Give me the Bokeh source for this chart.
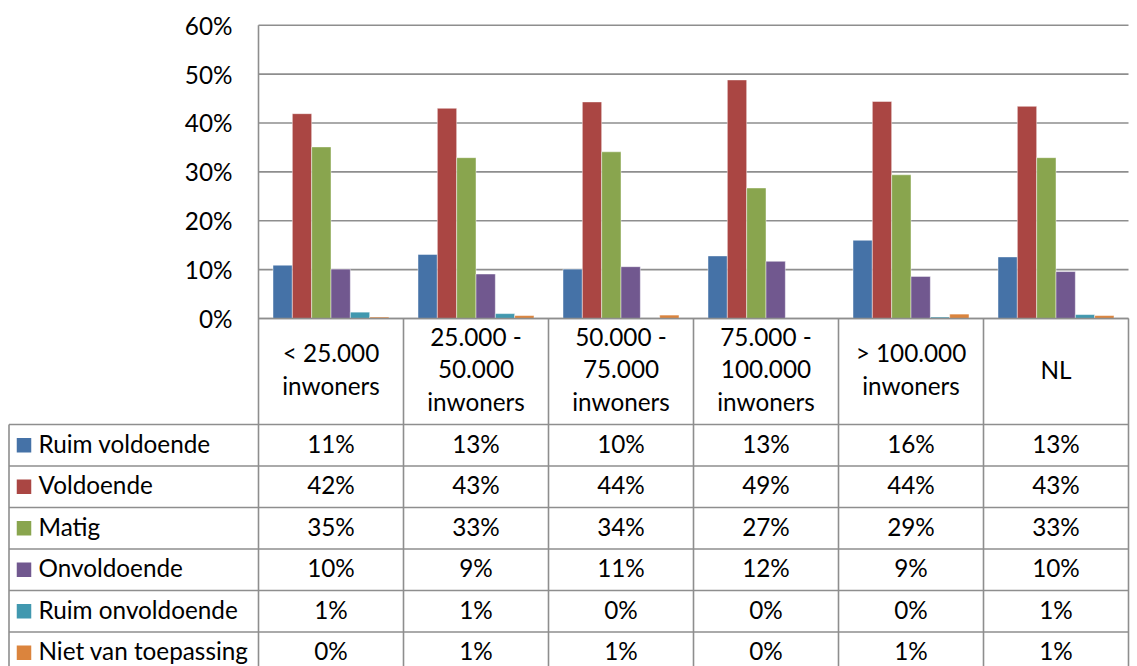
from bokeh.plotting import figure
from bokeh.models import Range1d, FixedTicker, NumeralTickFormatter
from bokeh.embed import file_html
from bokeh.resources import INLINE
from bokeh.core.properties import value

# ---------------- data ----------------
categories = ["< 25.000\ninwoners", "25.000 -\n50.000\ninwoners", "50.000 -\n75.000\ninwoners",
              "75.000 -\n100.000\ninwoners", "> 100.000\ninwoners", "NL"]
series_names = ["Ruim voldoende", "Voldoende", "Matig", "Onvoldoende",
                "Ruim onvoldoende", "Niet van toepassing"]
ruim_voldoende = [0.109, 0.131, 0.101, 0.128, 0.160, 0.126]
voldoende = [0.419, 0.430, 0.443, 0.488, 0.444, 0.434]
matig = [0.351, 0.329, 0.341, 0.267, 0.294, 0.329]
onvoldoende = [0.101, 0.091, 0.106, 0.117, 0.086, 0.096]
ruim_onvoldoende = [0.013, 0.010, 0.000, 0.000, 0.003, 0.008]
niet_van_toepassing = [0.003, 0.006, 0.007, 0.000, 0.009, 0.006]
y_ticks = [0.0, 0.1, 0.2, 0.3, 0.4, 0.5, 0.6]

series = [ruim_voldoende, voldoende, matig, onvoldoende, ruim_onvoldoende, niet_van_toepassing]
colors = ["#4572A7", "#AA4643", "#89A54E", "#71588F", "#4198AF", "#DB843D"]

# ---------------- layout constants (pixels) ----------------
FONT = "Lato"
FS = "24.3px"
GRID = "#8E8E8E"
W, H = 1137, 666
X0, PX = 258.0, 145.0            # left edge of first category, px per category
Y0 = 318.0                       # pixel row of 0 %
K = (318.0 - 24.7) / 0.6         # px per unit of value
ROW_TOP, ROW = 424.0, 41.5       # first data row top, row height
n = len(categories)
nrows = len(series_names)
BW = 116.0 / PX / 6              # bar width in category units


def X(px):
    return (px - X0) / PX


def Y(py):
    return (Y0 - py) / K


p = figure(width=W, height=H, output_backend="svg", toolbar_location=None,
           x_range=Range1d(X(0), X(W)), y_range=Range1d(Y(H), Y(0)),
           x_axis_location=None, y_axis_location="left", min_border=0)
p.outline_line_color = None
p.background_fill_color = "white"
p.border_fill_color = "white"
p.xgrid.visible = False
p.ygrid.visible = False

# value axis, placed at the chart's left edge
ax = p.yaxis[0]
ax.fixed_location = 0
ax.ticker = FixedTicker(ticks=y_ticks)
ax.formatter = NumeralTickFormatter(format="0%")
ax.axis_line_color = None
ax.major_tick_line_color = None
ax.minor_tick_line_color = None
ax.major_tick_out = 0
ax.major_tick_in = 0
ax.major_label_standoff = 26
ax.major_label_text_font = FONT
ax.major_label_text_font_size = FS
ax.major_label_text_color = "black"

# gridlines
p.segment(x0=[0] * len(y_ticks), x1=[n] * len(y_ticks), y0=y_ticks, y1=y_ticks,
          line_color=GRID, line_width=1.6)

# bars
for j, vals in enumerate(series):
    xs = [i + 0.5 + (j - 2.5) * BW for i in range(n)]
    p.vbar(x=xs, top=vals, bottom=0, width=BW, fill_color=colors[j],
           line_color="white", line_alpha=0.45, line_width=1)

# baseline over bars
p.segment(x0=[0], y0=[0], x1=[n], y1=[0], line_color=GRID, line_width=1.6)

# vertical lines: axis line + category separators through header and table
ybot = Y(H + 10)
p.segment(x0=list(range(n + 1)), x1=list(range(n + 1)),
          y0=[max(y_ticks)] + [0.0] * n, y1=[ybot] * (n + 1),
          line_color=GRID, line_width=1.6)
# table left border and row lines
xl = X(8.5)
p.segment(x0=[xl], x1=[xl], y0=[Y(ROW_TOP)], y1=[ybot], line_color=GRID, line_width=1.6)
row_lines = [Y(ROW_TOP + r * ROW) for r in range(nrows + 1)]
p.segment(x0=[xl] * len(row_lines), x1=[n] * len(row_lines), y0=row_lines, y1=row_lines,
          line_color=GRID, line_width=1.6)

# category header (multi-line)
hx, hy, ht = [], [], []
LINE = 32.3
for i, cat in enumerate(categories):
    lines = cat.split("\n")
    for li, t in enumerate(lines):
        hx.append(i + 0.5)
        hy.append(Y(368.6 + (li - (len(lines) - 1) / 2) * LINE))
        ht.append(t)
p.text(x=hx, y=hy, text=ht, text_align="center", text_baseline="middle",
       text_font=value(FONT), text_font_size=FS, text_color="black")

# data table rows
row_y = [Y(ROW_TOP + (k + 0.5) * ROW) for k in range(nrows)]
p.scatter(x=[X(23.5)] * nrows, y=row_y, marker="square", size=14.5,
          fill_color=colors, line_color=None)
p.text(x=[X(38)] * nrows, y=row_y, text=series_names, y_offset=-2,
       text_align="left", text_baseline="middle", text_font=value(FONT),
       text_font_size=FS, text_color="black")
for k, vals in enumerate(series):
    labels = [f"{round(v * 100)}%" for v in vals]
    p.text(x=[i + 0.5 for i in range(n)], y=[row_y[k]] * n, text=labels, y_offset=-2,
           text_align="center", text_baseline="middle", text_font=value(FONT),
           text_font_size=FS, text_color="black")

open("out.html", "w").write(file_html(p, INLINE))
